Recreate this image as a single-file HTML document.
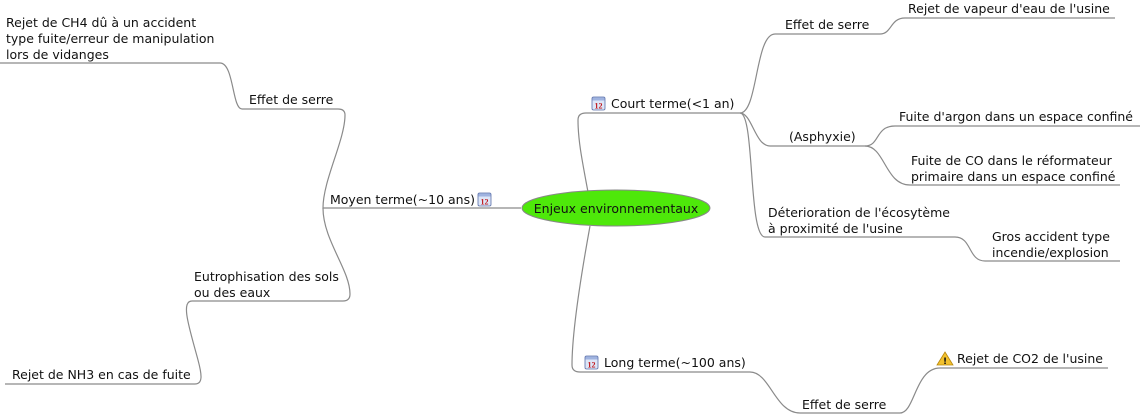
<!DOCTYPE html>
<html><head><meta charset="utf-8"><style>
html,body{margin:0;padding:0;background:#fff;}
svg{display:block;}
text{font-family:"DejaVu Sans","Liberation Sans",sans-serif;font-size:12.5px;fill:#111;}
.l{fill:none;stroke:#8a8a8a;stroke-width:1.2;}
</style></head><body>
<svg width="1143" height="414" viewBox="0 0 1143 414" xmlns="http://www.w3.org/2000/svg">
<defs>
<g id="cal">
<rect x="0" y="1" width="13" height="13" rx="1.5" fill="#dde6f7" stroke="#5a6fa8" stroke-width="0.8"/>
<rect x="0.5" y="1.5" width="12" height="3" fill="#9fb3e0"/>
<text x="6.5" y="12.5" text-anchor="middle" style="font-size:8px;font-weight:bold;fill:#c0161b;font-family:'Liberation Serif',serif">12</text>
</g>
</defs>
<path class="l" d="M588,192 C582,160 578,140 578,120 Q578,113 586,113 L740,113"/>
<path class="l" d="M740,113 C758,113 755,34 775,34 L880,34 C892,34 890,18 905,18 L1115,18"/>
<path class="l" d="M740,113 C752,113 755,146 770,146 L865,146 C880,146 875,126 895,126 L1140,126"/>
<path class="l" d="M865,146 C885,146 885,185 910,185 L1120,185"/>
<path class="l" d="M740,113 C755,113 748,237 765,237 L955,237 C972,237 968,261 985,261 L1120,261"/>
<path class="l" d="M590,226 C582,270 572,330 572,365 Q572,372 580,372 L750,372 C770,372 775,413 800,413 L900,413 C915,413 915,368 940,368 L1108,368"/>
<path class="l" d="M521,208 L323,208 C323,180 345,140 345,115 Q345,109 338,109 L242,109 C232,109 234,63 220,63 L0,63"/>
<path class="l" d="M323,208 C323,240 350,270 350,294 Q350,301 343,301 L192,301 C180,301 190,330 198,360 C202,375 203,384 195,384 L5,384"/>
<ellipse cx="616" cy="208" rx="94" ry="18" fill="#4ee80a" stroke="#888" stroke-width="1"/>
<text x="616" y="213" text-anchor="middle">Enjeux environnementaux</text>
<use href="#cal" x="592" y="96"/>
<text x="611" y="108">Court terme(&lt;1 an)</text>
<text x="785" y="29">Effet de serre</text>
<text x="908" y="13">Rejet de vapeur d'eau de l'usine</text>
<text x="789" y="141">(Asphyxie)</text>
<text x="899" y="121">Fuite d'argon dans un espace confiné</text>
<text x="911" y="165">Fuite de CO dans le réformateur</text>
<text x="911" y="181">primaire dans un espace confiné</text>
<text x="768" y="217">Déterioration de l'écosytème</text>
<text x="768" y="233">à proximité de l'usine</text>
<text x="992" y="241">Gros accident type</text>
<text x="992" y="257">incendie/explosion</text>
<use href="#cal" x="585" y="355"/>
<text x="604" y="367">Long terme(~100 ans)</text>
<text x="802" y="409">Effet de serre</text>
<path d="M945,352 L953,365 L937,365 Z" fill="#f2c12e" stroke="#b8860b" stroke-width="0.8"/>
<text x="945" y="364" text-anchor="middle" style="font-size:9px;font-weight:bold">!</text>
<text x="957" y="363">Rejet de CO2 de l'usine</text>
<text x="330" y="204">Moyen terme(~10 ans)</text>
<use href="#cal" x="478" y="192"/>
<text x="249" y="104">Effet de serre</text>
<text x="6" y="27">Rejet de CH4 dû à un accident</text>
<text x="6" y="43">type fuite/erreur de manipulation</text>
<text x="6" y="59">lors de vidanges</text>
<text x="194" y="281">Eutrophisation des sols</text>
<text x="194" y="297">ou des eaux</text>
<text x="12" y="379">Rejet de NH3 en cas de fuite</text>
</svg>
</body></html>
